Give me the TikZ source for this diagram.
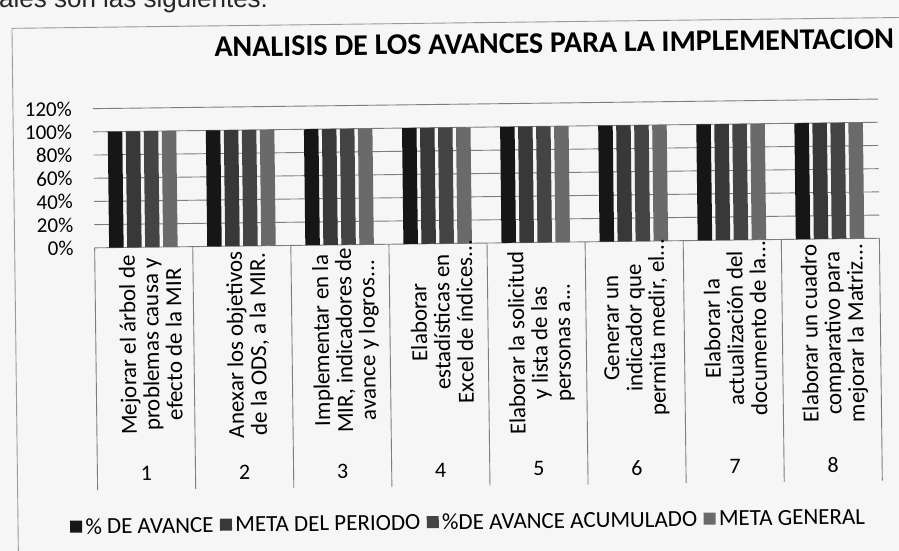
\documentclass[tikz,border=0pt]{standalone}
\usepackage{fontspec}
\setmainfont{Carlito}
\newfontfamily\introfont{Liberation Sans}
\definecolor{paper}{HTML}{F6F6F6}
\definecolor{sA}{HTML}{161616}
\definecolor{sB}{HTML}{383838}
\definecolor{sC}{HTML}{444444}
\definecolor{sD}{HTML}{6A6A6A}
\definecolor{gridc}{HTML}{7E7E7E}
\definecolor{framec}{HTML}{9A9A9A}
\tikzset{
  gridline/.style={draw=gridc, line width=0.9pt},
  divider/.style={draw=gridc, line width=0.9pt},
  chartframe/.style={draw=framec, line width=0.9pt},
  ylab/.style={anchor=east, inner sep=0pt, font=\fontsize{21}{23}\selectfont},
  catlab/.style={rotate=90, align=center, inner sep=0pt, font=\fontsize{23}{23}\selectfont},
  numlab/.style={inner sep=0pt, font=\fontsize{22}{24}\selectfont},
  legsq/.style={draw=none, minimum size=12pt, inner sep=0pt},
  legtx/.style={anchor=west, inner sep=0pt, font=\fontsize{23}{26}\selectfont},
  titletx/.style={inner sep=0pt, font=\bfseries\fontsize{30}{33}\selectfont}
}
\begin{document}
\begin{tikzpicture}[x=1pt, y=-1pt]
\useasboundingbox (0,0) rectangle (899,551);
\fill[paper] (0,0) rectangle (899,551);
\begin{scope}
  \clip (0,0) rectangle (899,551);
  \node[anchor=base west, inner sep=0pt, text=black!85, font=\introfont\fontsize{26}{30}\selectfont] (intro) at (-1,8) {ales son las siguientes:};
  \begin{scope}[rotate around={0.7:(450,275)}, transform shape]
    % outer frame
    \draw[chartframe] (15,580) -- (15,23) -- (930,23);
    % title
    \node[titletx, anchor=base] (title) at (557,54) {ANALISIS DE LOS AVANCES PARA LA IMPLEMENTACION};
    % gridlines and axis labels
    \foreach \k/\lab in {0/0,1/20,2/40,3/60,4/80,5/100,6/120} {
      \draw[gridline] (95,243.5-23.2*\k) -- (880,243.5-23.2*\k);
      \node[ylab] (y\k) at (74,243.5-23.2*\k) {\lab\%};
    }
    % bars
    \foreach \c in {1,...,8} {
      \foreach \j/\col in {1/sA,2/sB,3/sC,4/sD} {
        \fill[\col] ({95+98.1*(\c-1)+14.5+18*(\j-1)},243.5) rectangle ++(14.5,-116);
      }
    }
    % category dividers
    \foreach \c in {0,...,8} {
      \draw[divider] ({95+98.1*\c},243.5) -- ({95+98.1*\c},486);
    }
    % category labels
    \node[catlab] (c1) at ({95+98.1*0.5+6},341) {Mejorar el árbol de\\problemas causa y\\efecto de la MIR};
    \node[catlab] (c2) at ({95+98.1*1.5+5},342) {Anexar los objetivos\\de la ODS, a la MIR.};
    \node[catlab] (c3) at ({95+98.1*2.5+5},339) {Implementar en la\\MIR, indicadores de\\avance y logros...};
    \node[catlab] (c4) at ({95+98.1*3.5+3},322) {Elaborar\\estadísticas en\\Excel de índices...};
    \node[catlab] (c5) at ({95+98.1*4.5+4},344) {Elaborar la solicitud\\y lista de las\\personas a...};
    \node[catlab] (c6) at ({95+98.1*5.5+1},330) {Generar un\\indicador que\\permita medir, el...};
    \node[catlab] (c7) at ({95+98.1*6.5+2},332) {Elaborar la\\actualización del\\documento de la...};
    \node[catlab] (c8) at ({95+98.1*7.5+3},338) {Elaborar un cuadro\\comparativo para\\mejorar la Matriz...};
    % numbers
    \foreach \c in {1,...,8} {
      \node[numlab] (n\c) at ({95+98.1*(\c-0.5)},470) {\c};
    }
    % legend
    \node[legsq, fill=sA] (q1) at (73,522) {};
    \node[legtx] (l1) at ([xshift=3pt]q1.east) {\% DE AVANCE};
    \node[legsq, fill=sB, anchor=west] (q2) at ([xshift=6pt]l1.east) {};
    \node[legtx] (l2) at ([xshift=3pt]q2.east) {META DEL PERIODO};
    \node[legsq, fill=sC, anchor=west] (q3) at ([xshift=6pt]l2.east) {};
    \node[legtx] (l3) at ([xshift=3pt]q3.east) {\%DE AVANCE ACUMULADO};
    \node[legsq, fill=sD, anchor=west] (q4) at ([xshift=6pt]l3.east) {};
    \node[legtx] (l4) at ([xshift=3pt]q4.east) {META GENERAL};
  \end{scope}
\end{scope}
\end{tikzpicture}
\end{document}
